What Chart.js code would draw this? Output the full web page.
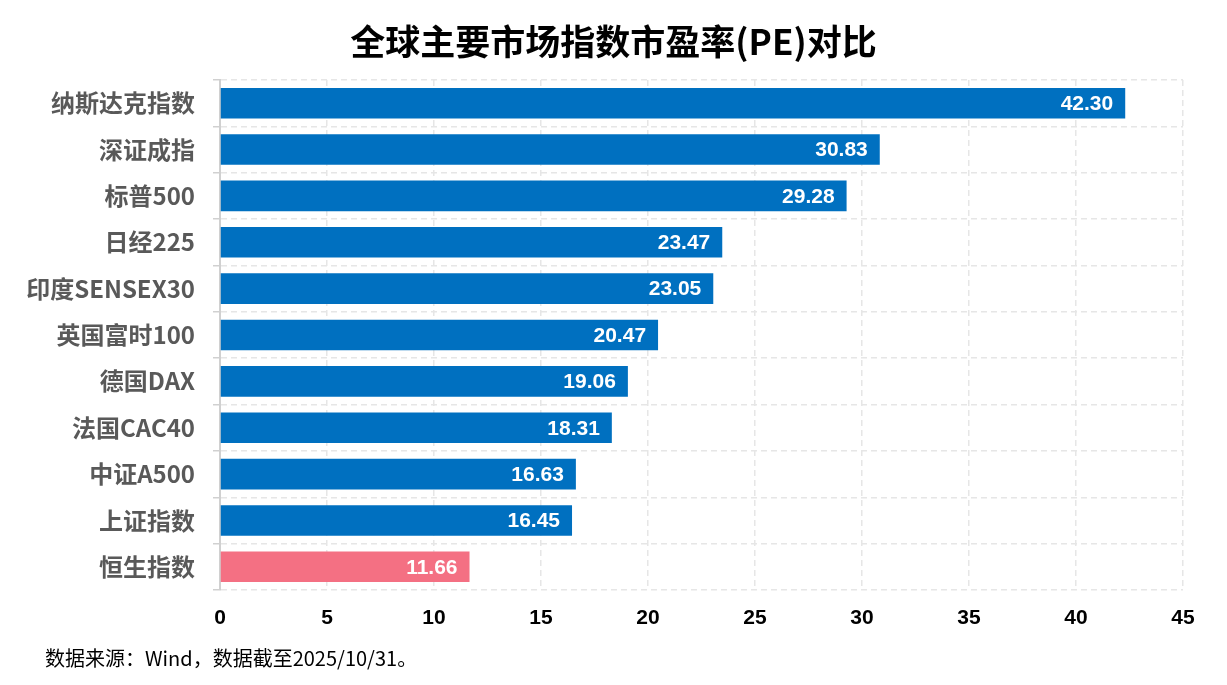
<!DOCTYPE html>
<html lang="zh">
<head>
    <meta charset="UTF-8" />
    <title>全球主要市场指数市盈率(PE)对比</title>
    <script src="https://cdn.jsdelivr.net/npm/chart.js"></script>
    <style>
        body {
            margin: 0;
            background: #fff;
        }

        .wrap {
            position: relative;
            width: 1227px;
            height: 685px;
        }

        h1 {
            position: absolute;
            left: 0;
            top: 0;
            width: 1227px;
            margin: 0;
            line-height: 80px;
            text-align: center;
            font-family: 'Noto Sans CJK SC', sans-serif;
            font-size: 35px;
            font-weight: bold;
            color: #000;
        }

        #note {
            position: absolute;
            left: 45px;
            top: 645px;
            font-family: 'Noto Sans CJK SC', sans-serif;
            font-size: 20px;
            line-height: 26px;
            color: #000;
        }
    </style>
</head>
<body>
    <div class="wrap">
        <canvas id="peChart" width="1227" height="685"></canvas>
        <h1>全球主要市场指数市盈率(PE)对比</h1>
        <div id="note">数据来源：Wind，数据截至2025/10/31。</div>
    </div>

    <script>
        const indexNames = ['纳斯达克指数', '深证成指', '标普500', '日经225', '印度SENSEX30', '英国富时100', '德国DAX', '法国CAC40', '中证A500', '上证指数', '恒生指数'];
        const peValues = [42.30, 30.83, 29.28, 23.47, 23.05, 20.47, 19.06, 18.31, 16.63, 16.45, 11.66];
        const barColors = ['#0070c0', '#0070c0', '#0070c0', '#0070c0', '#0070c0', '#0070c0', '#0070c0', '#0070c0', '#0070c0', '#0070c0', '#f47083'];
        const xTicks = [0, 5, 10, 15, 20, 25, 30, 35, 40, 45];

        // подписи значений внутри столбцов
        const valueLabels = {
            id: 'valueLabels',
            afterDatasetsDraw(chart) {
                const ctx = chart.ctx;
                const meta = chart.getDatasetMeta(0);
                ctx.save();
                ctx.fillStyle = '#fff';
                ctx.font = 'bold 21px "Liberation Sans Narrow", "Liberation Sans", sans-serif';
                ctx.textAlign = 'right';
                ctx.textBaseline = 'middle';
                meta.data.forEach((bar, i) => {
                    ctx.fillText(peValues[i].toFixed(2), bar.x - 12, bar.y + 1);
                });
                ctx.restore();
            }
        };

        new Chart(document.getElementById('peChart').getContext('2d'), {
            type: 'bar',
            data: {
                labels: indexNames,
                datasets: [{
                    data: peValues,
                    backgroundColor: barColors,
                    barPercentage: 0.66,
                    categoryPercentage: 1
                }]
            },
            options: {
                indexAxis: 'y',
                responsive: false,
                animation: false,
                layout: { padding: { left: 0, right: 44, top: 80, bottom: 0 } },
                plugins: {
                    legend: { display: false },
                    tooltip: { enabled: false }
                },
                scales: {
                    x: {
                        min: 0,
                        max: 45,
                        afterBuildTicks(scale) {
                            scale.ticks = xTicks.map(v => ({ value: v }));
                        },
                        afterFit(scale) { scale.height = 95; },
                        grid: { color: '#e6e6e6', lineWidth: 1.5, drawTicks: false },
                        border: { display: false, dash: [6, 4] },
                        ticks: {
                            color: '#000',
                            padding: 16,
                            font: { family: '"Liberation Sans Narrow", "Liberation Sans", sans-serif', size: 21, weight: 'bold' }
                        }
                    },
                    y: {
                        afterFit(scale) { scale.width = 220; },
                        grid: { color: '#e6e6e6', lineWidth: 1.5, tickLength: 7, tickColor: '#d0d0d0' },
                        border: { color: '#d0d0d0', width: 2, dash: [6, 4] },
                        ticks: {
                            color: '#595959',
                            padding: 18,
                            font: { family: '"Noto Sans CJK SC", sans-serif', size: 24, weight: 'bold' }
                        }
                    }
                }
            },
            plugins: [valueLabels]
        });
    </script>
</body>
</html>
